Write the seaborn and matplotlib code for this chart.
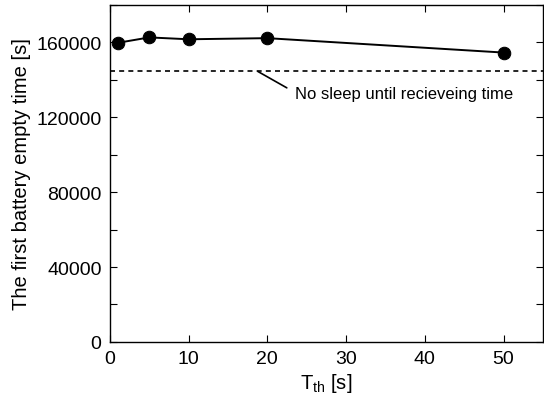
import matplotlib
matplotlib.use("Agg")
import matplotlib.pyplot as plt
import matplotlib.ticker as mticker
import pandas as pd
import seaborn as sns

# threshold time T_th [s] and the first battery empty time [s]
t_th = [1, 5, 10, 20, 50]
empty_time = [159800, 162700, 161700, 162300, 154600]
no_sleep_time = 144500

df = pd.DataFrame({"t_th": t_th, "empty_time": empty_time})

sns.set_style("ticks")
plt.rcParams["font.family"] = ["Liberation Sans", "DejaVu Sans"]
plt.rcParams["mathtext.fontset"] = "custom"
plt.rcParams["mathtext.rm"] = "Liberation Sans"
for key in ["text.color", "axes.labelcolor", "xtick.color", "ytick.color"]:
    plt.rcParams[key] = "black"

fig = plt.figure(figsize=(5.44, 4.02), dpi=100)
ax = fig.add_axes([0.202, 0.147, 0.796, 0.838])

sns.lineplot(data=df, x="t_th", y="empty_time", ax=ax, color="black",
             marker="o", markersize=9, markeredgecolor="black", linewidth=1.4)
ax.axhline(no_sleep_time, color="black", linestyle=(0, (3, 2.5)), linewidth=1.2)

ax.annotate("No sleep until recieveing time", xy=(18.8, no_sleep_time),
            xytext=(23.5, 132500), fontsize=12, va="center", ha="left",
            arrowprops=dict(arrowstyle="-", color="black", lw=1.2,
                            shrinkA=4, shrinkB=0, relpos=(0, 0.6)))

ax.set_xlim(0, 55)
ax.set_ylim(0, 180000)
ax.xaxis.set_major_locator(mticker.MultipleLocator(10))
ax.xaxis.set_minor_locator(mticker.NullLocator())
ax.yaxis.set_major_locator(mticker.MultipleLocator(40000))
ax.yaxis.set_minor_locator(mticker.MultipleLocator(20000))
ax.tick_params(which="both", direction="in", top=True, right=True,
               labelsize=14, width=0.8, color="black", pad=6)
ax.tick_params(which="major", length=5)
ax.tick_params(which="minor", length=5)
for s in ax.spines.values():
    s.set_linewidth(1.0)
    s.set_color("black")

ax.set_xlabel(r"T$_\mathregular{th}$ [s]", fontsize=14.5, labelpad=3)
ax.set_ylabel("The first battery empty time [s]", fontsize=14.5, labelpad=3.5)

fig.savefig("out.png", dpi=100)
plt.close(fig)
